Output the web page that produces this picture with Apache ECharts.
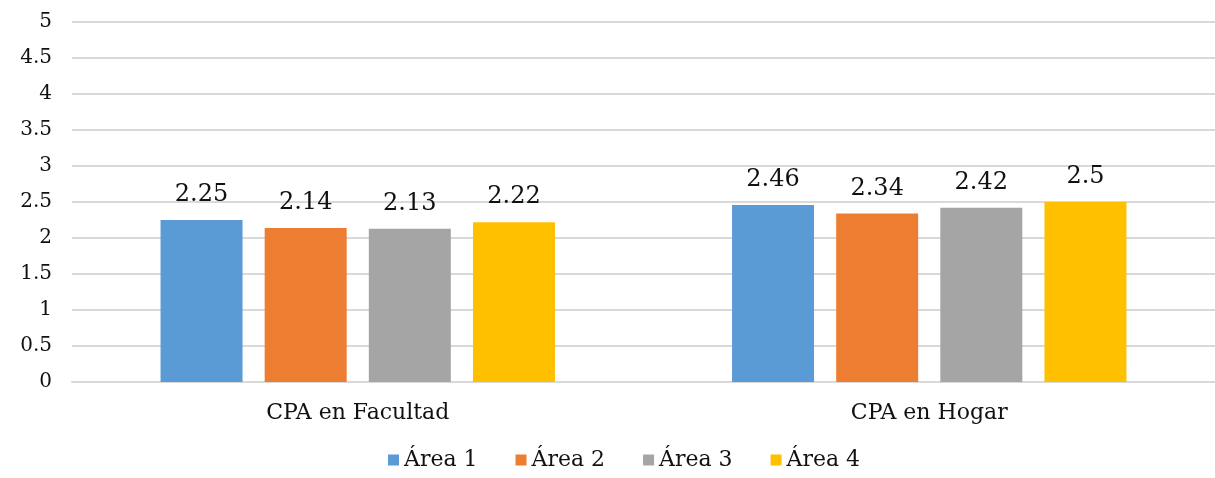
<!DOCTYPE html>
<html>
<head>
<meta charset="utf-8">
<script src="https://cdn.jsdelivr.net/npm/echarts@6/dist/echarts.min.js"></script>
<style>
  html, body { margin: 0; padding: 0; background: #fff; }
  #main { width: 1215px; height: 478px; }
</style>
</head>
<body>
<div id="main"></div>
<script>
  var categories = ['CPA en Facultad', 'CPA en Hogar'];
  var seriesNames = ['Área 1', 'Área 2', 'Área 3', 'Área 4'];
  var area1 = [2.25, 2.46];
  var area2 = [2.14, 2.34];
  var area3 = [2.13, 2.42];
  var area4 = [2.22, 2.5];
  var colors = ['#5b9bd5', '#ed7d31', '#a5a5a5', '#ffc000'];

  var serif = '"DejaVu Serif", "Liberation Serif", serif';
  var values = [area1, area2, area3, area4];

  var chart = echarts.init(document.getElementById('main'));
  chart.setOption({
    animation: false,
    color: colors,
    grid: { left: 72, right: 0, top: 22, bottom: 96 },
    legend: {
      bottom: 2,
      left: 383,
      itemWidth: 11,
      itemHeight: 11,
      itemGap: 38,
      icon: 'rect',
      textStyle: { fontFamily: serif, fontSize: 22, color: '#111' },
      data: seriesNames
    },
    xAxis: {
      type: 'category',
      data: categories,
      axisLine: { lineStyle: { color: '#d9d9d9', width: 2 } },
      axisTick: { show: false },
      axisLabel: { fontFamily: serif, fontSize: 22, color: '#111', margin: 20 }
    },
    yAxis: {
      type: 'value',
      min: 0,
      max: 5,
      interval: 0.5,
      axisLine: { show: false },
      axisTick: { show: false },
      splitLine: { lineStyle: { color: '#d9d9d9', width: 2 } },
      axisLabel: { fontFamily: serif, fontSize: 20, color: '#111', margin: 20 }
    },
    series: seriesNames.map(function (name, i) {
      return {
        name: name,
        type: 'bar',
        barWidth: 82,
        barGap: '27%',
        data: values[i],
        label: {
          show: true,
          position: 'top',
          distance: 13,
          fontFamily: serif,
          fontSize: 24,
          color: '#111'
        }
      };
    })
  });
</script>
</body>
</html>
